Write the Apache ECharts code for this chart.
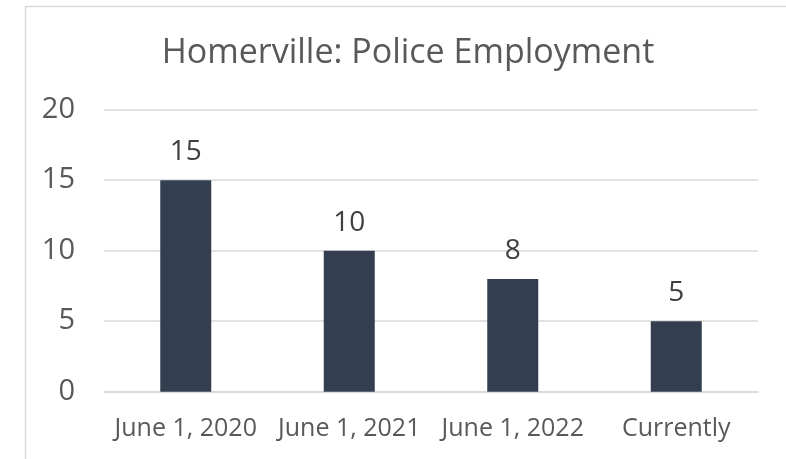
<!DOCTYPE html>
<html>
<head>
<meta charset="utf-8">
<script src="https://cdn.jsdelivr.net/npm/echarts@6/dist/echarts.min.js"></script>
<style>
html,body{margin:0;padding:0;background:#fff;}
#chart{width:786px;height:459px;}
</style>
</head>
<body>
<div id="chart"></div>
<script>
const categories = ["June 1, 2020", "June 1, 2021", "June 1, 2022", "Currently"];
const values = [15, 10, 8, 5];
const yTicks = [0, 5, 10, 15, 20];
const titleText = "Homerville: Police Employment";

const chart = echarts.init(document.getElementById('chart'), null, {renderer: 'canvas'});
const font = '"Open Sans", "Segoe UI", sans-serif';
chart.setOption({
  animation: false,
  backgroundColor: '#ffffff',
  title: {
    text: titleText,
    left: 403,
    top: 31,
    textAlign: 'center',
    textStyle: {fontFamily: font, fontSize: 34, fontWeight: 'normal', color: '#595959'}
  },
  graphic: [{
    type: 'rect',
    shape: {x: 25.5, y: 6.5, width: 800, height: 500},
    style: {fill: 'none', stroke: '#d9d9d9', lineWidth: 1.5},
    silent: true
  }],
  grid: {left: 104, right: 28, top: 109.7, bottom: 67.3, containLabel: false},
  xAxis: {
    type: 'category',
    data: categories,
    axisLine: {show: true, lineStyle: {color: '#d9d9d9', width: 1.5}},
    axisTick: {show: false},
    axisLabel: {fontFamily: font, fontSize: 25, color: '#595959', margin: 25, interval: 0}
  },
  yAxis: {
    type: 'value',
    min: yTicks[0],
    max: yTicks[yTicks.length - 1],
    interval: yTicks[1] - yTicks[0],
    axisLine: {show: false},
    axisTick: {show: false},
    splitLine: {lineStyle: {color: '#d9d9d9', width: 1.5}},
    axisLabel: {fontFamily: font, fontSize: 29, color: '#595959', margin: 29}
  },
  series: [{
    type: 'bar',
    data: values,
    barWidth: 51,
    itemStyle: {color: '#333f50'},
    label: {
      show: true,
      position: 'top',
      distance: 14,
      fontFamily: font,
      fontSize: 28,
      color: '#404040'
    }
  }]
});
</script>
</body>
</html>
